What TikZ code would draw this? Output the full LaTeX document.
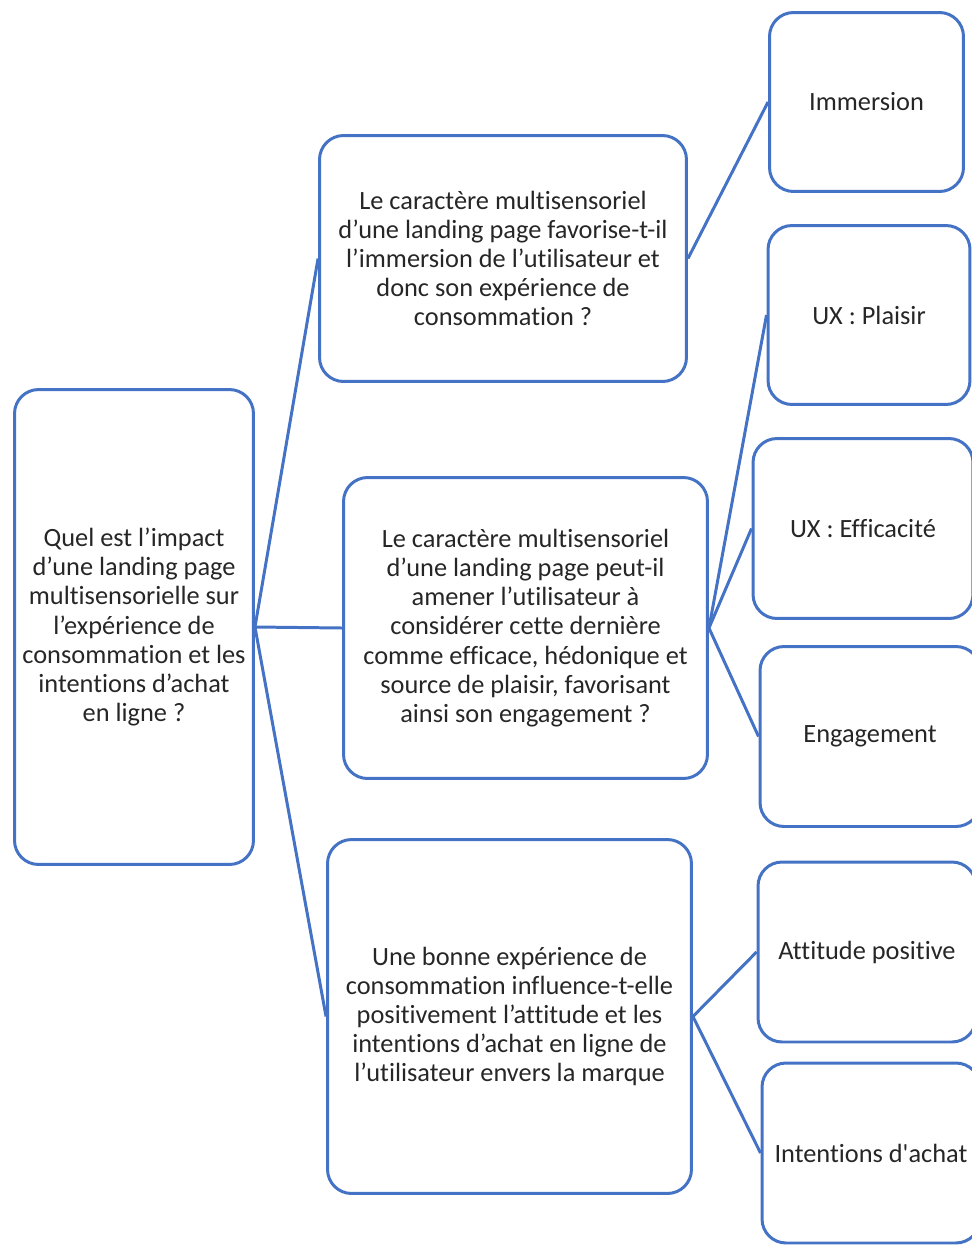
\documentclass[tikz,border=0pt]{standalone}
\usepackage{fontspec}
\setmainfont[Ligatures={NoCommon}]{Carlito}
\usetikzlibrary{calc}
\definecolor{officeblue}{HTML}{4472C4}
\tikzset{
  box/.style={draw=officeblue, line width=1.7pt, rounded corners=0.48cm,
    align=center, inner sep=0pt, text=black!85,
    font=\fontsize{15}{16.6}\selectfont},
  link/.style={draw=officeblue, line width=1.7pt}
}

\begin{document}
\begin{tikzpicture}[x=0.02cm, y=-0.02cm]
		%%%%% START %%%%%
		\useasboundingbox (0,0) rectangle (971,1245);
		
		% question de recherche
		\node[box, minimum width=4.78cm, minimum height=9.5cm] (question) at (134,627)
			{Quel est l'impact\\d'une landing page\\multisensorielle sur\\l'expérience de\\consommation et les\\intentions d'achat\\en ligne ?};
		
		% hypotheses
		\node[box, minimum width=7.34cm, minimum height=4.92cm] (hypoA) at (503,258.5)
			{Le caractère multisensoriel\\d'une landing page favorise-t-il\\l'immersion de l'utilisateur et\\donc son expérience de\\consommation ?};
		\node[box, minimum width=7.28cm, minimum height=6.02cm] (hypoB) at (525.5,628)
			{Le caractère multisensoriel\\d'une landing page peut-il\\amener l'utilisateur à\\considérer cette dernière\\comme efficace, hédonique et\\source de plaisir, favorisant\\ainsi son engagement ?};
		\node[box, minimum width=7.28cm, minimum height=7.08cm] (hypoC) at (509.5,1016.5)
			{Une bonne expérience de\\consommation influence-t-elle\\positivement l'attitude et les\\intentions d'achat en ligne de\\l'utilisateur envers la marque};
		
		% variables
		\node[box, minimum width=3.88cm, minimum height=3.58cm] (immersion) at (866.5,102) {Immersion};
		\node[box, minimum width=4.04cm, minimum height=3.58cm] (plaisir) at (869,315) {UX : Plaisir};
		\node[box, minimum width=4.4cm, minimum height=3.6cm] (efficacite) at (863,528.5) {UX : Efficacité};
		\node[box, minimum width=4.4cm, minimum height=3.6cm] (engagement) at (870,736.5) {Engagement};
		\node[box, minimum width=4.36cm, minimum height=3.6cm] (attitude) at (867,952) {Attitude positive};
		\node[box, minimum width=4.36cm, minimum height=3.6cm] (intentions) at (871,1153) {Intentions d\textquotesingle achat};
		
		% liens
		\draw[link] (question.east) -- (hypoA.west);
		\draw[link] (question.east) -- (hypoB.west);
		\draw[link] (question.east) -- (hypoC.west);
		
		\draw[link] (hypoA.east) -- (immersion.west);
		\draw[link] (hypoB.east) -- (plaisir.west);
		\draw[link] (hypoB.east) -- (efficacite.west);
		\draw[link] (hypoB.east) -- (engagement.west);
		\draw[link] (hypoC.east) -- (attitude.west);
		\draw[link] (hypoC.east) -- (intentions.west);
		%%%%% END %%%%%
	\end{tikzpicture}
\end{document}
